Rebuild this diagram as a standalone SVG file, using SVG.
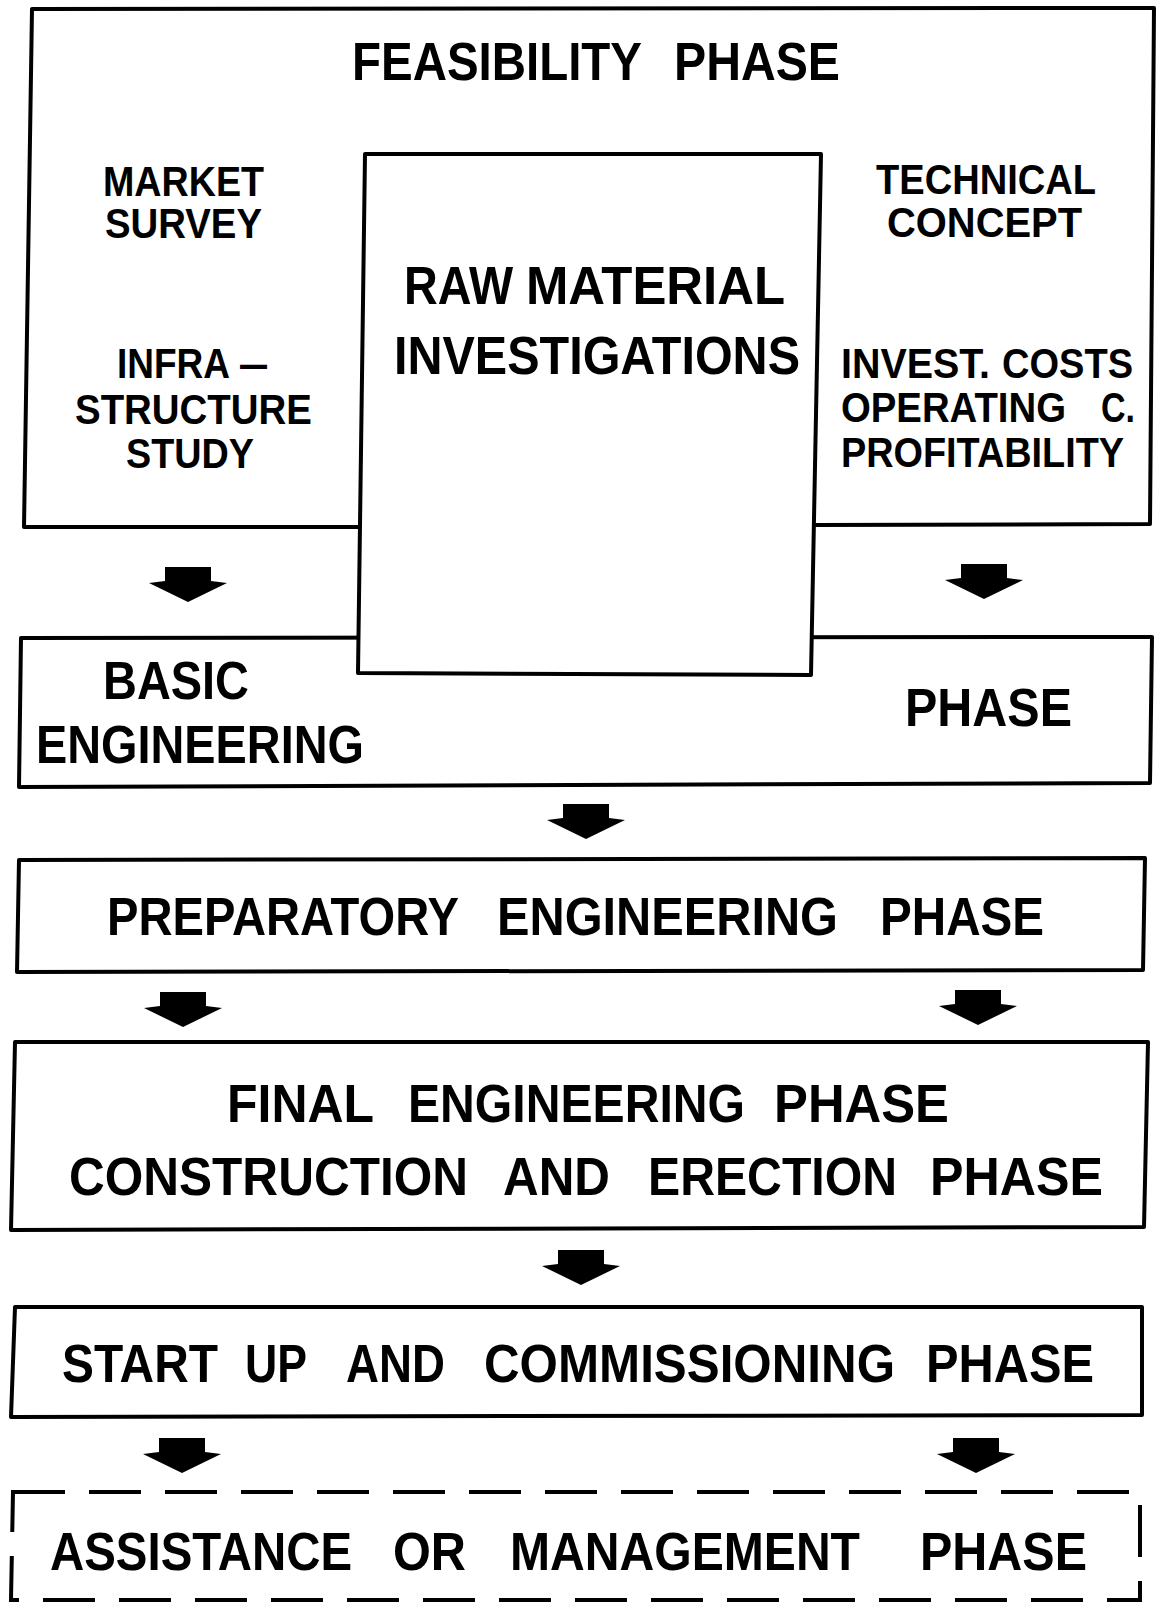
<svg xmlns="http://www.w3.org/2000/svg" width="1157" height="1605" viewBox="0 0 1157 1605">
  <style>
    .box { fill: #ffffff; stroke: #000000; stroke-width: 4; stroke-linejoin: round; }
    .dash { fill: #ffffff; stroke: #000000; stroke-width: 4; stroke-dasharray: 52 24; }
    text { font-family: "Liberation Sans", Arial, sans-serif; font-weight: bold; fill: #000000; }
    .big { font-size: 54px; }
    .small { font-size: 43px; }
    .arrow { fill: #000000; }
  </style>
  <defs>
    <!-- block arrow pointing down; origin at top centre of the stem -->
    <path id="blockArrow" class="arrow" d="M-23,0 H23 V14 L39,16 L0,35 L-39,16 L-23,14 Z"/>
  </defs>

  <rect width="1157" height="1605" fill="#ffffff"/>

  <g id="feasibility-phase">
    <polygon class="box" points="362,527 24,527 32,9 1154,8 1150,524 816,525"/>
    <text class="big" x="352" y="80" textLength="290" lengthAdjust="spacingAndGlyphs">FEASIBILITY</text>
    <text class="big" x="674" y="80" textLength="166" lengthAdjust="spacingAndGlyphs">PHASE</text>
    <text class="small" x="103" y="196" textLength="161" lengthAdjust="spacingAndGlyphs">MARKET</text>
    <text class="small" x="105" y="238" textLength="157" lengthAdjust="spacingAndGlyphs">SURVEY</text>
    <text class="small" x="117" y="378" textLength="113" lengthAdjust="spacingAndGlyphs">INFRA</text>
    <text class="small" x="240" y="378" textLength="27" lengthAdjust="spacingAndGlyphs">—</text>
    <text class="small" x="75" y="424" textLength="237" lengthAdjust="spacingAndGlyphs">STRUCTURE</text>
    <text class="small" x="126" y="468" textLength="128" lengthAdjust="spacingAndGlyphs">STUDY</text>
    <text class="small" x="876" y="194" textLength="220" lengthAdjust="spacingAndGlyphs">TECHNICAL</text>
    <text class="small" x="887" y="237" textLength="195" lengthAdjust="spacingAndGlyphs">CONCEPT</text>
    <text class="small" x="841" y="378" textLength="149" lengthAdjust="spacingAndGlyphs">INVEST.</text>
    <text class="small" x="1002" y="378" textLength="131" lengthAdjust="spacingAndGlyphs">COSTS</text>
    <text class="small" x="841" y="422" textLength="225" lengthAdjust="spacingAndGlyphs">OPERATING</text>
    <text class="small" x="1101" y="422" textLength="34" lengthAdjust="spacingAndGlyphs">C.</text>
    <text class="small" x="841" y="467" textLength="283" lengthAdjust="spacingAndGlyphs">PROFITABILITY</text>
  </g>

  <g id="basic-engineering-phase">
    <polygon class="box" points="21,638 1152,637 1150,783 19,787"/>
    <text class="big" x="103" y="699" textLength="146" lengthAdjust="spacingAndGlyphs">BASIC</text>
    <text class="big" x="36" y="763" textLength="328" lengthAdjust="spacingAndGlyphs">ENGINEERING</text>
    <text class="big" x="905" y="726" textLength="167" lengthAdjust="spacingAndGlyphs">PHASE</text>
  </g>

  <g id="raw-material-investigations">
    <polygon class="box" points="365,154 821,154 811,675 358,673"/>
    <text class="big" x="404" y="304" textLength="109" lengthAdjust="spacingAndGlyphs">RAW</text>
    <text class="big" x="526" y="304" textLength="259" lengthAdjust="spacingAndGlyphs">MATERIAL</text>
    <text class="big" x="394" y="374" textLength="406" lengthAdjust="spacingAndGlyphs">INVESTIGATIONS</text>
  </g>

  <g id="preparatory-engineering-phase">
    <polygon class="box" points="19,860 1145,858 1143,970 17,972"/>
    <text class="big" x="107" y="935" textLength="352" lengthAdjust="spacingAndGlyphs">PREPARATORY</text>
    <text class="big" x="497" y="935" textLength="341" lengthAdjust="spacingAndGlyphs">ENGINEERING</text>
    <text class="big" x="880" y="935" textLength="164" lengthAdjust="spacingAndGlyphs">PHASE</text>
  </g>

  <g id="final-engineering-construction-phase">
    <polygon class="box" points="15,1042 1148,1042 1144,1227 11,1230"/>
    <text class="big" x="227" y="1122" textLength="147" lengthAdjust="spacingAndGlyphs">FINAL</text>
    <text class="big" x="408" y="1122" textLength="337" lengthAdjust="spacingAndGlyphs">ENGINEERING</text>
    <text class="big" x="774" y="1122" textLength="175" lengthAdjust="spacingAndGlyphs">PHASE</text>
    <text class="big" x="69" y="1195" textLength="399" lengthAdjust="spacingAndGlyphs">CONSTRUCTION</text>
    <text class="big" x="503" y="1195" textLength="107" lengthAdjust="spacingAndGlyphs">AND</text>
    <text class="big" x="648" y="1195" textLength="249" lengthAdjust="spacingAndGlyphs">ERECTION</text>
    <text class="big" x="930" y="1195" textLength="173" lengthAdjust="spacingAndGlyphs">PHASE</text>
  </g>

  <g id="start-up-commissioning-phase">
    <polygon class="box" points="15,1307 1142,1307 1142,1415 11,1417"/>
    <text class="big" x="62" y="1382" textLength="156" lengthAdjust="spacingAndGlyphs">START</text>
    <text class="big" x="245" y="1382" textLength="62" lengthAdjust="spacingAndGlyphs">UP</text>
    <text class="big" x="346" y="1382" textLength="99" lengthAdjust="spacingAndGlyphs">AND</text>
    <text class="big" x="484" y="1382" textLength="411" lengthAdjust="spacingAndGlyphs">COMMISSIONING</text>
    <text class="big" x="926" y="1382" textLength="168" lengthAdjust="spacingAndGlyphs">PHASE</text>
  </g>

  <g id="assistance-management-phase">
    <polygon class="dash" points="13,1492 1140,1492 1140,1600 11,1600"/>
    <text class="big" x="50" y="1570" textLength="302" lengthAdjust="spacingAndGlyphs">ASSISTANCE</text>
    <text class="big" x="393" y="1570" textLength="73" lengthAdjust="spacingAndGlyphs">OR</text>
    <text class="big" x="510" y="1570" textLength="350" lengthAdjust="spacingAndGlyphs">MANAGEMENT</text>
    <text class="big" x="920" y="1570" textLength="167" lengthAdjust="spacingAndGlyphs">PHASE</text>
  </g>

  <g id="connectors">
    <use href="#blockArrow" transform="translate(188,567)"/>
    <use href="#blockArrow" transform="translate(984,564)"/>
    <use href="#blockArrow" transform="translate(586,804)"/>
    <use href="#blockArrow" transform="translate(183,992)"/>
    <use href="#blockArrow" transform="translate(978,990)"/>
    <use href="#blockArrow" transform="translate(581,1250)"/>
    <use href="#blockArrow" transform="translate(182,1438)"/>
    <use href="#blockArrow" transform="translate(976,1438)"/>
  </g>
</svg>
